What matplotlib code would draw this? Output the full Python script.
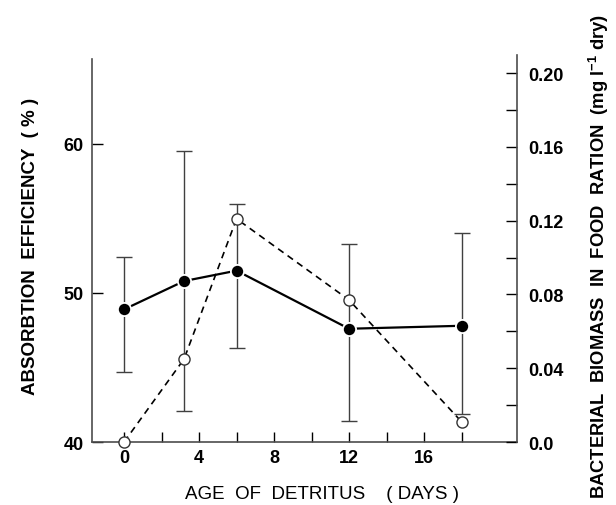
import matplotlib
matplotlib.use('Agg')
from matplotlib import pyplot as plt
import numpy as np

plt.rcParams['font.family'] = ['Liberation Sans', 'DejaVu Sans']
plt.rcParams['mathtext.fontset'] = 'custom'
plt.rcParams['mathtext.rm'] = 'Liberation Sans:bold'
plt.rcParams['mathtext.it'] = 'Liberation Sans:bold'

########
# DATA #
########

# age of detritus (days)
age = [0, 3.2, 6.0, 12.0, 18.0]
# absorption efficiency (%) with error bar ends
absorb = [48.9, 50.8, 51.5, 47.6, 47.8]
absorb_hi = [52.4, 59.5, 56.0, 53.3, 54.0]
absorb_lo = [44.7, 42.1, 46.3, 41.4, 41.9]
# bacterial biomass in food ration (mg l-1 dry)
biomass = [0.0, 0.045, 0.121, 0.077, 0.011]

xticks_major = [0, 4, 8, 12, 16]
xticks_minor = [2, 6, 10, 14, 18]

########
# PLOT #
########

fig = plt.figure(figsize=(6.16, 5.06), dpi=100)
ax = fig.add_axes([0.1494, 0.1245, 0.6899, 0.7648])

absorb = np.array(absorb)
yerr = [absorb - np.array(absorb_lo), np.array(absorb_hi) - absorb]
ax.errorbar(age, absorb, yerr=yerr, fmt='none', ecolor='0.25',
            elinewidth=1.0, capsize=6, capthick=1.0, zorder=2)
ax.plot(age, absorb, '-', color='k', lw=1.6, zorder=3)
ax.plot(age, absorb, 'o', color='k', ms=9.5, mec='white', mew=1.3, zorder=4)

ax.set_xlim(-1.71, 20.96)
ax.set_ylim(40, 65.97)
ax.set_xticks(xticks_major)
ax.set_xticks(xticks_minor, minor=True)
ax.set_yticks([40, 50, 60])
ax.tick_params(axis='x', which='both', direction='in', length=7, width=1,
               labelsize=13, pad=5)
ax.tick_params(axis='y', which='both', direction='in', length=8, width=1,
               labelsize=13, pad=6)
for lab in ax.get_xticklabels() + ax.get_yticklabels():
    lab.set_fontweight('bold')
ax.spines['top'].set_visible(False)
ax.spines['right'].set_visible(False)
ax.spines['left'].set_bounds(40, 65.7)
for s in ['left', 'bottom']:
    ax.spines[s].set_color('0.3')
    ax.spines[s].set_linewidth(1.2)

# right axis: bacterial biomass
ax2 = ax.twinx()
ax2.plot(age, biomass, '--', color='k', lw=1.2, dashes=(4, 3), zorder=3)
ax2.plot(age, biomass, 'o', ms=8, mfc='white', mec='0.2', mew=1.0, zorder=5,
         clip_on=False)
ax2.set_ylim(0, 0.2098)
ax2.set_yticks([0.0, 0.04, 0.08, 0.12, 0.16, 0.20])
ax2.set_yticklabels(['0.0', '0.04', '0.08', '0.12', '0.16', '0.20'])
ax2.set_yticks(np.arange(0.02, 0.2, 0.04), minor=True)
ax2.tick_params(axis='y', which='both', direction='in', length=8, width=1,
                labelsize=13, pad=8)
for lab in ax2.get_yticklabels():
    lab.set_fontweight('bold')
for s in ['top', 'left', 'bottom']:
    ax2.spines[s].set_visible(False)
ax2.spines['right'].set_color('0.3')
ax2.spines['right'].set_linewidth(1.2)

fig.text(0.050, 0.512, 'ABSORBTION  EFFICIENCY  ( % )', rotation=90,
         ha='center', va='center', fontsize=13.5, fontweight='bold')
fig.text(0.523, 0.006, 'AGE  OF  DETRITUS    ( DAYS )', ha='center',
         va='bottom', fontsize=13.5)
fig.text(0.972, 0.493, r'BACTERIAL  BIOMASS  IN  FOOD  RATION  (mg l$^{-1}$ dry)',
         rotation=90, ha='center', va='center', fontsize=13.2, fontweight='bold')

plt.savefig('out.png', dpi=100)
plt.close()
